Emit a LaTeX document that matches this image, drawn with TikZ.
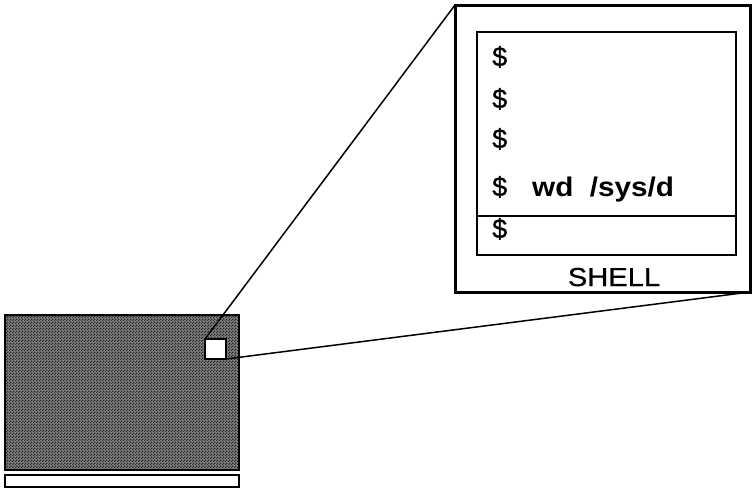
\documentclass[tikz,border=0pt]{standalone}
\usepackage{fontspec}
\setmainfont{Liberation Sans}
\newfontfamily\heavy[FakeBold=0.8]{Liberation Sans}
\usetikzlibrary{patterns}
\pgfdeclarepatternformonly{checker}{\pgfpointorigin}{\pgfpoint{3pt}{3pt}}{\pgfpoint{3pt}{3pt}}{%
  \pgfpathrectangle{\pgfpointorigin}{\pgfpoint{1.5pt}{1.5pt}}%
  \pgfpathrectangle{\pgfpoint{1.5pt}{1.5pt}}{\pgfpoint{1.5pt}{1.5pt}}%
  \pgfusepath{fill}}
\tikzset{
  box/.style={draw=black, inner sep=0pt, outer sep=0pt, anchor=north west},
  prompt/.style={anchor=base west, inner sep=0pt, font=\heavy\fontsize{27}{29}\selectfont},
  zoomline/.style={draw=black, line width=1.5pt},
}
\begin{document}
\begin{tikzpicture}[x=1pt,y=-1pt]
\useasboundingbox (0,0) rectangle (752,488);
% screen
\node[box, line width=2pt, fill=black!50, minimum width=234pt, minimum height=155pt] (screen) at (5,315) {};
\fill[pattern=checker, pattern color=black!85] (screen.south west) rectangle (screen.north east);
\draw[line width=2pt] (screen.south west) rectangle (screen.north east);
\node[box, line width=1.8pt, fill=white, minimum width=234pt, minimum height=12pt] (bar) at (5,475) {};
\node[box, line width=1.8pt, fill=white, minimum width=21pt, minimum height=20pt] (win) at (205,339) {};
% zoomed window
\node[box, line width=3pt, fill=white, minimum width=295pt, minimum height=287pt] (zoom) at (455,5) {};
\node[box, line width=2.8pt, minimum width=259pt, minimum height=223pt] (term) at (477,32) {};
\coordinate (divl) at (477,216);
\coordinate (divr) at (736,216);
\draw[line width=2.5pt] (divl) -- (divr);
\node[prompt] (p1) at (492,66) {\$};
\node[prompt] (p2) at (492,108) {\$};
\node[prompt] (p3) at (492,148) {\$};
\node[prompt] (p4) at (492,196) {\$};
\node[anchor=base west, inner sep=0pt, font=\fontsize{27}{29}\selectfont\bfseries] (cmd) at (532,196) {\scalebox{1.1}[1]{wd\ \ /sys/d}};
\node[prompt] (p5) at (492,238) {\$};
\node[anchor=base, inner sep=0pt, font=\heavy\fontsize{26}{28}\selectfont] (shell) at (614,286) {\scalebox{1.12}[1]{SHELL}};
% zoom lines
\draw[zoomline] (win.north west) -- (zoom.north west);
\draw[zoomline] (win.south east) -- (zoom.south east);
\end{tikzpicture}
\end{document}
